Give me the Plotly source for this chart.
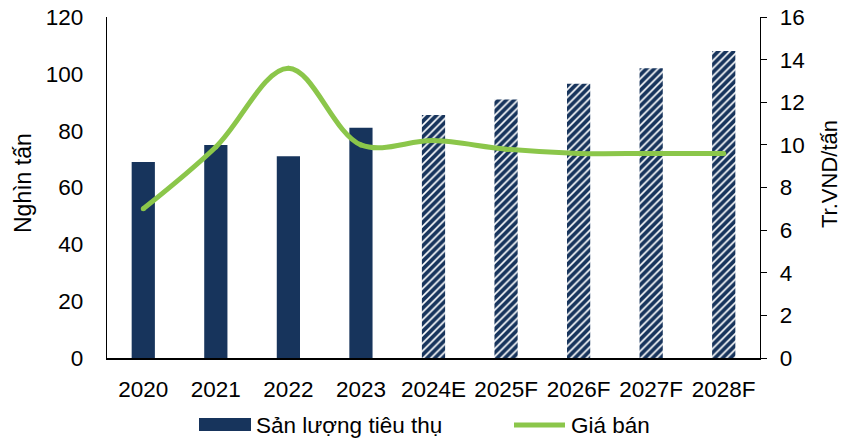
import plotly.graph_objects as go

# Years (actual 2020-2023, estimates/forecasts afterwards)
categories = ["2020", "2021", "2022", "2023", "2024E", "2025F", "2026F", "2027F", "2028F"]
# Consumption volume, thousand tonnes (left axis)
volume = [69, 75, 71, 81, 85.5, 91, 96.5, 102, 108]
# Selling price, million VND per tonne (right axis)
price = [7.0, 9.9, 13.6, 10.0, 10.2, 9.8, 9.6, 9.6, 9.6]
# Which bars are projections (drawn hatched)
projected = [False, False, False, False, True, True, True, True, True]

left_ticks = [0, 20, 40, 60, 80, 100, 120]
right_ticks = [0, 2, 4, 6, 8, 10, 12, 14, 16]

NAVY = "#17345C"
GREEN = "#8BC64A"
FONT = "Liberation Sans, Arial, sans-serif"
FS = 22.5

W, H = 843, 439
L, R, T, B = 107, 83, 17, 81
PW, PH = W - L - R, H - T - B


def px_x(px):
    return (px - L) / PW


def px_y(py):
    return (H - B - py) / PH


fig = go.Figure()

fig.add_trace(go.Bar(
    x=categories,
    y=volume,
    name="Sản lượng tiêu thụ",
    width=0.32,
    marker=dict(
        color=NAVY,
        line=dict(width=0),
        pattern=dict(
            shape=["/" if p else "" for p in projected],
            fgcolor=NAVY,
            bgcolor="white",
            size=5.5,
            solidity=0.7,
            fillmode="replace",
        ),
    ),
    showlegend=False,
    yaxis="y",
))

fig.add_trace(go.Scatter(
    x=categories,
    y=price,
    name="Giá bán",
    mode="lines+markers",
    line=dict(color=GREEN, width=5, shape="spline", smoothing=1.0),
    marker=dict(color=GREEN, size=5, line=dict(width=0)),
    showlegend=False,
    yaxis="y2",
))

fig.update_layout(
    width=W,
    height=H,
    margin=dict(l=L, r=R, t=T, b=B, autoexpand=False),
    paper_bgcolor="white",
    plot_bgcolor="white",
    font=dict(family=FONT, size=FS, color="black"),
    bargap=0.68,
    xaxis=dict(
        type="category",
        automargin=False,
        showline=True,
        linecolor="black",
        linewidth=2,
        ticks="",
        showgrid=False,
        tickfont=dict(size=FS),
        ticklabelstandoff=10,
    ),
    yaxis=dict(
        range=[0, 120],
        tickvals=left_ticks,
        automargin=False,
        showline=True,
        linecolor="black",
        linewidth=1.3,
        ticks="",
        showgrid=False,
        zeroline=False,
        tickfont=dict(size=FS),
        ticklabelstandoff=18,
    ),
    yaxis2=dict(
        range=[0, 16],
        tickvals=right_ticks,
        overlaying="y",
        side="right",
        automargin=False,
        showline=True,
        linecolor="black",
        linewidth=1.3,
        ticks="outside",
        ticklen=6,
        tickwidth=1.3,
        tickcolor="black",
        showgrid=False,
        zeroline=False,
        tickfont=dict(size=FS),
        ticklabelstandoff=8,
    ),
)

# Axis titles
fig.add_annotation(text="Nghìn tấn", xref="paper", yref="paper",
                   x=px_x(23), y=px_y(183), xanchor="center", yanchor="middle",
                   textangle=-90, showarrow=False, font=dict(size=23))
fig.add_annotation(text="Tr.VND/tấn", xref="paper", yref="paper",
                   x=px_x(829), y=px_y(174), xanchor="center", yanchor="middle",
                   textangle=-90, showarrow=False, font=dict(size=22))

# Legend drawn below the axis
fig.add_shape(type="rect", xref="paper", yref="paper",
              x0=px_x(199), x1=px_x(251), y0=px_y(431), y1=px_y(418),
              fillcolor=NAVY, line=dict(width=0))
fig.add_annotation(text="Sản lượng tiêu thụ", xref="paper", yref="paper",
                   x=px_x(254), y=px_y(425), xanchor="left", yanchor="middle",
                   showarrow=False, font=dict(size=FS))
fig.add_shape(type="line", xref="paper", yref="paper",
              x0=px_x(514), x1=px_x(565), y0=px_y(425), y1=px_y(425),
              line=dict(color=GREEN, width=5))
fig.add_annotation(text="Giá bán", xref="paper", yref="paper",
                   x=px_x(569), y=px_y(425), xanchor="left", yanchor="middle",
                   showarrow=False, font=dict(size=FS))

fig.write_html("out.html")
